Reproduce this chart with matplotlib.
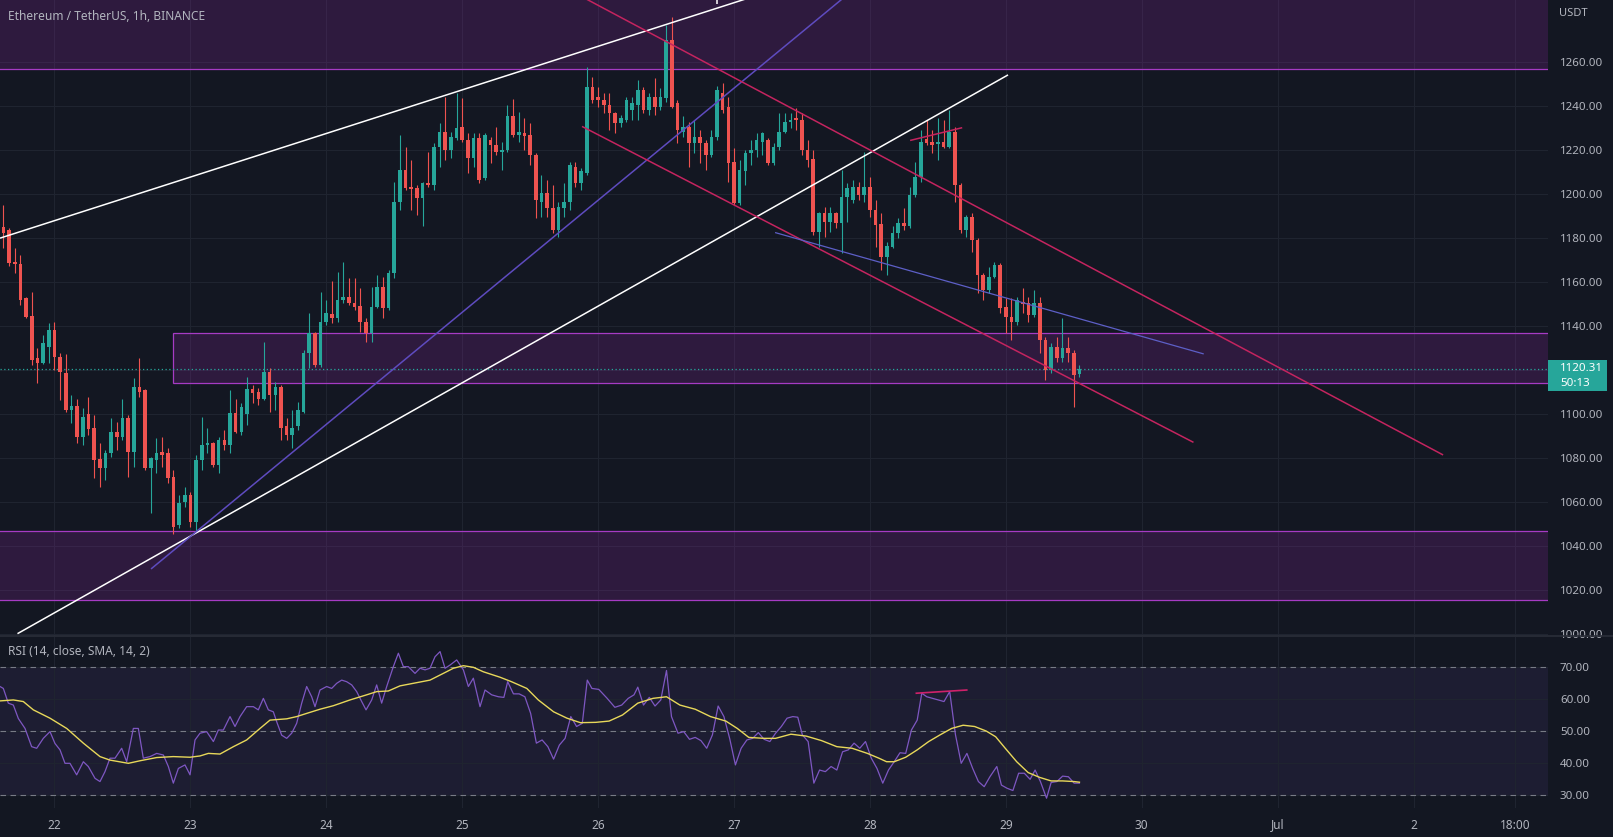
import matplotlib
matplotlib.use("Agg")
import matplotlib.pyplot as plt
from matplotlib.lines import Line2D
from matplotlib.patches import Rectangle

# ETH/USDT 1h candles, hour 0 = 21 Jun 15:00
opens = [1184.8, 1183.6, 1169.2, 1168.2, 1152.6, 1144.5, 1125.3, 1123.0, 1130.6, 1138.2, 1126.0, 1118.8,
         1101.8, 1103.6, 1089.7, 1100.0, 1093.5, 1079.4, 1075.3, 1082.1, 1091.7, 1089.7, 1098.0, 1082.9,
         1112.4, 1110.9, 1075.3, 1079.1, 1082.9, 1082.1, 1071.2, 1049.5, 1060.2, 1063.2, 1051.0, 1079.1,
         1085.9, 1086.7, 1076.8, 1088.2, 1085.9, 1100.3, 1092.0, 1100.0, 1111.2, 1110.0, 1107.0,
         1119.2, 1108.6, 1112.4, 1094.3, 1090.5, 1094.3, 1101.0, 1127.6, 1136.7, 1122.3, 1142.0, 1145.3,
         1143.5, 1151.8, 1153.0, 1150.3, 1149.0, 1142.0, 1136.7, 1148.8, 1157.9, 1148.1, 1163.9, 1196.5,
         1210.9, 1203.0, 1202.6, 1198.0, 1204.9, 1204.1, 1221.5, 1228.3, 1220.0, 1225.3, 1230.6, 1224.5,
         1216.2, 1225.3, 1207.1, 1224.5, 1222.3, 1219.2, 1220.0, 1235.2, 1226.8, 1227.9, 1226.8, 1217.7,
         1196.5, 1200.3, 1193.5, 1183.6, 1193.5, 1196.5, 1212.4, 1204.9, 1209.4, 1248.5, 1243.9, 1242.7,
         1240.5, 1236.7, 1232.1, 1233.6, 1238.2, 1240.5, 1247.3, 1238.2, 1244.2, 1239.7, 1243.5, 1270.0,
         1241.2, 1228.3, 1230.6, 1223.0, 1226.0, 1223.0, 1217.7, 1226.0, 1245.8, 1239.7, 1214.7, 1195.8,
         1210.2, 1218.5, 1220.0, 1223.8, 1224.5, 1213.9, 1221.5, 1228.3, 1232.9, 1234.4, 1233.6, 1220.0,
         1215.8, 1182.9, 1191.2, 1187.4, 1191.5, 1186.7, 1198.8, 1197.3, 1203.0, 1199.5, 1203.0, 1192.7,
         1186.4, 1171.5, 1176.1, 1182.1, 1186.7, 1185.2, 1199.5, 1207.9, 1224.8, 1223.8, 1222.7, 1223.8,
         1221.5, 1228.3, 1204.1, 1183.6, 1189.7, 1179.1, 1163.2, 1156.4, 1162.4, 1167.7, 1148.8, 1144.2,
         1142.0, 1151.0, 1150.3, 1145.0, 1150.3, 1133.6, 1120.0, 1130.6, 1125.3, 1129.8, 1127.6, 1118.2]
highs = [1195.0, 1184.4, 1175.3, 1172.3, 1153.3, 1155.6, 1129.8, 1135.9, 1141.2, 1142.0, 1127.6, 1127.3,
         1108.6, 1107.0, 1102.6, 1107.9, 1099.5, 1086.7, 1083.6, 1098.0, 1096.5, 1106.7, 1099.5, 1116.2,
         1125.3, 1111.2, 1080.6, 1089.0, 1089.4, 1084.4, 1074.5, 1063.2, 1066.9, 1064.7, 1081.4, 1098.8,
         1093.5, 1087.4, 1089.7, 1092.7, 1110.9, 1107.0, 1104.8, 1117.0, 1113.2, 1112.0, 1132.9,
         1120.7, 1114.7, 1113.2, 1098.0, 1102.0, 1105.6, 1129.0, 1145.8, 1137.4, 1155.6, 1151.8, 1160.2,
         1164.7, 1169.2, 1161.7, 1161.7, 1157.1, 1143.5, 1157.9, 1163.2, 1162.4, 1165.5, 1205.6, 1226.8,
         1221.5, 1215.5, 1204.1, 1205.6, 1219.2, 1223.0, 1232.1, 1244.2, 1228.3, 1245.8, 1243.5, 1227.6,
         1227.6, 1227.6, 1227.6, 1226.0, 1230.6, 1223.8, 1240.5, 1243.0, 1237.4, 1234.4, 1232.1, 1218.5,
         1208.6, 1206.4, 1204.1, 1196.5, 1204.9, 1214.7, 1214.7, 1211.7, 1257.9, 1253.3, 1248.8, 1245.8,
         1245.8, 1237.4, 1235.9, 1244.2, 1244.2, 1251.8, 1248.8, 1245.8, 1252.6, 1248.0, 1276.8, 1280.6,
         1242.7, 1235.2, 1232.9, 1233.6, 1229.1, 1224.5, 1229.1, 1249.0, 1250.3, 1244.2, 1220.7, 1215.5,
         1220.0, 1224.5, 1227.6, 1228.3, 1225.3, 1223.0, 1236.7, 1236.7, 1236.7, 1238.9, 1236.7, 1224.5,
         1220.0, 1192.0, 1194.2, 1194.2, 1192.0, 1210.9, 1204.9, 1206.4, 1205.6, 1219.2, 1207.9, 1197.3,
         1191.2, 1178.3, 1185.2, 1188.9, 1193.5, 1203.3, 1214.7, 1229.1, 1233.6, 1229.1, 1234.4, 1233.6,
         1238.2, 1230.6, 1204.9, 1190.5, 1191.2, 1179.8, 1163.9, 1167.0, 1169.2, 1168.5, 1152.6, 1152.6,
         1153.3, 1157.1, 1153.3, 1156.4, 1153.3, 1135.1, 1132.1, 1135.1, 1143.5, 1135.1, 1129.1, 1122.3]
lows = [1175.3, 1167.3, 1163.9, 1149.5, 1143.5, 1122.3, 1113.9, 1122.5, 1123.0, 1120.0, 1106.4, 1101.0,
        1095.8, 1086.7, 1085.9, 1090.4, 1070.8, 1067.0, 1070.0, 1080.6, 1083.6, 1088.2, 1071.5, 1076.0,
        1107.9, 1074.5, 1054.8, 1073.0, 1076.0, 1068.5, 1045.5, 1048.0, 1057.9, 1048.8, 1046.5, 1074.5,
        1082.1, 1076.0, 1073.0, 1083.6, 1082.1, 1091.2, 1090.4, 1095.0, 1104.8, 1104.0, 1106.4,
        1101.0, 1101.8, 1088.2, 1088.2, 1084.4, 1092.7, 1100.3, 1120.7, 1121.5, 1121.5, 1140.5, 1141.2,
        1142.0, 1150.3, 1149.5, 1147.3, 1137.4, 1132.9, 1132.9, 1148.0, 1143.5, 1147.3, 1161.7, 1192.7,
        1201.8, 1192.7, 1190.5, 1185.2, 1203.3, 1201.8, 1212.4, 1215.5, 1216.2, 1224.5, 1223.8, 1209.4,
        1212.4, 1204.9, 1206.4, 1213.9, 1217.7, 1210.9, 1219.2, 1226.0, 1223.8, 1220.0, 1213.2, 1189.0,
        1189.7, 1189.7, 1182.1, 1180.6, 1189.7, 1192.7, 1203.3, 1201.8, 1208.6, 1241.2, 1239.7, 1236.7,
        1229.1, 1227.6, 1230.6, 1232.9, 1233.6, 1233.6, 1236.7, 1235.9, 1235.9, 1238.2, 1242.0, 1238.9,
        1223.0, 1226.0, 1212.4, 1218.5, 1214.0, 1210.9, 1217.0, 1224.5, 1236.7, 1205.6, 1195.0, 1195.0,
        1204.1, 1213.2, 1217.0, 1217.7, 1213.2, 1213.2, 1220.0, 1227.6, 1229.8, 1229.1, 1217.7, 1212.4,
        1181.4, 1176.0, 1180.6, 1182.9, 1184.4, 1173.0, 1187.4, 1195.8, 1197.3, 1196.5, 1189.7, 1176.0,
        1165.5, 1163.2, 1175.3, 1179.8, 1183.6, 1184.4, 1198.8, 1205.6, 1222.3, 1218.5, 1215.5, 1220.7,
        1220.7, 1196.5, 1182.1, 1180.6, 1173.8, 1154.9, 1151.8, 1154.9, 1161.7, 1145.8, 1136.7, 1133.6,
        1140.5, 1145.8, 1142.0, 1144.2, 1127.6, 1115.5, 1118.5, 1123.8, 1123.8, 1123.8, 1103.3, 1117.0]
closes = [1182.4, 1168.5, 1168.2, 1151.8, 1144.2, 1124.5, 1123.0, 1132.1, 1138.2, 1126.0, 1119.2, 1101.8,
          1103.6, 1089.7, 1098.8, 1093.0, 1079.1, 1075.3, 1082.1, 1092.0, 1089.7, 1098.0, 1082.9, 1112.4,
          1110.1, 1075.3, 1079.8, 1082.1, 1081.4, 1070.8, 1048.8, 1059.4, 1063.2, 1051.0, 1079.1, 1085.9,
          1086.7, 1076.8, 1088.2, 1085.9, 1100.3, 1092.0, 1103.3, 1111.2, 1109.7, 1107.0, 1119.2,
          1108.6, 1112.4, 1093.5, 1090.5, 1093.5, 1101.8, 1127.6, 1136.7, 1122.3, 1142.0, 1145.8, 1143.8,
          1151.8, 1153.3, 1150.3, 1148.5, 1142.0, 1136.7, 1148.8, 1157.9, 1148.1, 1163.9, 1196.5, 1210.9,
          1202.6, 1202.3, 1198.0, 1204.9, 1204.1, 1221.5, 1228.3, 1220.0, 1226.0, 1229.8, 1224.5, 1216.2,
          1225.3, 1206.4, 1226.8, 1222.3, 1219.2, 1220.0, 1235.2, 1226.8, 1228.3, 1226.1, 1217.7, 1197.3,
          1200.3, 1193.5, 1183.6, 1194.2, 1196.5, 1213.2, 1204.9, 1210.2, 1248.8, 1242.7, 1242.7, 1240.5,
          1236.7, 1232.1, 1234.4, 1242.7, 1241.2, 1247.3, 1238.2, 1244.2, 1239.7, 1244.2, 1270.0, 1239.7,
          1229.1, 1230.6, 1223.0, 1226.0, 1223.0, 1217.7, 1226.0, 1247.3, 1238.2, 1213.9, 1195.8, 1210.9,
          1218.5, 1220.0, 1224.5, 1227.6, 1213.9, 1221.5, 1228.3, 1232.9, 1233.6, 1233.6, 1220.0, 1215.5,
          1182.9, 1191.2, 1187.4, 1191.2, 1186.7, 1198.8, 1202.6, 1203.3, 1199.5, 1203.0, 1192.7, 1185.9,
          1171.5, 1176.4, 1182.1, 1186.7, 1185.2, 1199.5, 1207.9, 1223.8, 1223.0, 1222.3, 1223.8, 1221.5,
          1228.3, 1204.1, 1183.6, 1189.7, 1179.1, 1163.2, 1156.4, 1162.4, 1167.7, 1148.1, 1144.2, 1142.0,
          1151.8, 1150.0, 1145.0, 1150.3, 1133.6, 1120.0, 1130.6, 1125.3, 1129.8, 1127.6, 1117.7, 1120.3]

# RSI(14) line, read at its turning points (hour, value)
rsi_hours = [-0.62, -0.03, 0.85, 1.74, 2.62, 3.80, 4.97, 5.86, 7.03, 8.21, 9.09, 9.98, 10.86, 11.74,
             12.92, 14.10, 14.98, 16.16, 17.04, 17.92, 18.81, 19.69, 20.87, 21.75, 22.93, 23.81, 24.69,
             25.87, 27.05, 28.23, 29.11, 29.99, 30.88, 32.05, 32.94, 33.82, 34.70, 35.88, 37.06, 37.94,
             38.82, 40.00, 40.88, 41.77, 42.94, 44.12, 45.00, 45.89, 46.77, 47.65, 48.24, 49.12, 50.01,
             50.89, 51.77, 52.66, 53.54, 54.42, 55.01, 55.89, 57.07, 57.95, 58.84, 59.72, 60.60, 61.49,
             62.37, 63.25, 64.02, 65.02, 65.90, 66.78, 67.67, 68.84, 69.73, 70.61, 71.49, 72.67, 73.55,
             74.44, 75.32, 76.20, 77.09, 77.97, 78.85, 80.03, 81.21, 82.09, 82.97, 84.15, 85.03, 86.21,
             87.39, 88.36, 89.03, 90.05, 91.06, 92.07, 93.09, 94.10, 95.11, 96.13, 97.14, 98.16, 99.17,
             100.18, 101.20, 102.21, 103.09, 103.90, 105.12, 106.60, 107.96, 109.17, 110.32, 111.34,
             112.01, 113.02, 114.04, 115.05, 116.07, 117.08, 117.96, 119.11, 120.12, 121.14, 122.15,
             123.16, 124.18, 125.19, 126.20, 127.22, 128.23, 129.25, 130.26, 131.27, 132.29, 133.30,
             134.31, 135.33, 136.34, 137.36, 138.37, 139.38, 140.26, 141.07, 142.09, 143.10, 144.11,
             145.13, 146.14, 147.16, 148.17, 149.18, 150.20, 151.21, 152.22, 153.24, 154.25, 155.27,
             156.28, 157.29, 158.31, 159.32, 160.33, 161.35, 162.16, 163.04, 164.05, 165.07, 166.08,
             167.09, 168.11, 169.12, 170.13, 171.15, 172.16, 173.18, 174.19, 175.41, 176.22, 177.23,
             178.25, 179.26, 180.27, 181.29, 182.17, 183.11, 184.19, 185.00, 186.02, 187.03, 188.05,
             189.06, 190.0]
rsi_vals = [63.9, 63.3, 58.7, 58.1, 53.9, 50.8, 45.1, 44.6, 47.7, 49.8, 46.1, 44.1, 39.9, 39.9,
            36.3, 40.4, 38.9, 35.2, 34.2, 37.3, 41.5, 41.5, 44.6, 40.4, 50.8, 50.8, 41.5,
            42.0, 43.0, 42.5, 38.9, 33.7, 38.3, 39.4, 36.3, 47.2, 49.3, 49.8, 46.7, 50.3,
            50.3, 54.5, 51.4, 54.5, 57.6, 57.6, 56.6, 60.2, 56.6, 56.0, 52.9, 48.7, 47.7,
            49.3, 52.4, 58.7, 63.9, 60.7, 57.6, 62.8, 63.9, 63.3, 64.9, 65.9, 65.4, 64.4,
            62.3, 59.2, 56.6, 59.7, 64.4, 58.7, 63.9, 70.1, 74.3, 70.1, 70.1, 68.0, 69.6,
            69.1, 69.6, 73.2, 74.8, 69.6, 70.6, 72.2, 69.1, 63.9, 66.5, 57.6, 62.8, 61.3,
            60.7, 60.5, 65.4, 61.6, 61.6, 60.7, 55.5, 46.2, 47.2, 45.1, 41.2, 45.6, 47.7,
            54.5, 51.4, 52.4, 65.9, 63.3, 63.0, 60.2, 57.4, 58.1, 60.2, 61.3,
            63.7, 58.1, 60.5, 57.8, 59.7, 68.9, 54.5, 49.3, 49.8, 47.4, 48.0,
            47.0, 44.6, 48.8, 57.8, 54.5, 47.7, 39.4, 44.6, 47.2, 47.7, 49.5,
            47.4, 46.7, 49.3, 51.4, 54.0, 54.5, 54.3, 48.8, 46.7, 33.7, 37.8,
            37.3, 38.9, 37.8, 43.5, 44.1, 46.2, 44.6, 46.7, 41.5, 38.3, 33.7,
            37.8, 40.4, 43.2, 43.0, 50.3, 53.4, 61.8, 60.7, 60.2, 59.7, 59.2,
            62.3, 48.8, 39.9, 43.0, 38.3, 34.2, 32.6, 35.7, 38.9, 33.1, 32.1,
            31.4, 36.8, 36.8, 34.9, 37.8, 34.2, 29.0, 33.9, 34.2, 35.9, 35.7,
            33.7, 33.7]

# RSI-based SMA(14)
sma_hours = [-0.62, 1.74, 3.50, 5.27, 8.21, 11.16, 14.10, 17.04, 18.81, 22.05, 24.11, 27.05, 29.99,
             32.94, 34.70, 36.17, 38.23, 40.59, 42.94, 45.30, 47.06, 50.01, 51.77, 53.54, 55.89, 58.25,
             61.19, 64.13, 65.90, 67.96, 70.02, 72.97, 75.32, 77.67, 79.44, 81.21, 82.97, 84.74, 87.68,
             89.71, 92.41, 94.44, 97.14, 99.51, 101.87, 104.58, 106.94, 109.31, 112.01, 114.71, 117.08,
             119.45, 122.15, 124.85, 127.56, 129.58, 131.61, 134.31, 136.34, 139.05, 141.75, 144.45,
             147.16, 149.86, 152.56, 154.59, 155.94, 157.29, 159.32, 161.35, 163.38, 165.40, 167.43,
             169.46, 171.49, 173.52, 175.21, 176.90, 178.92, 180.95, 182.98, 185.00, 187.03, 189.06, 190.0]
sma_vals = [59.4, 59.7, 59.2, 56.6, 54.0, 50.8, 46.2, 42.0, 40.9, 39.9, 40.7, 41.7, 42.0,
            41.8, 42.2, 43.0, 42.8, 45.1, 47.2, 50.8, 53.4, 53.8, 54.5, 55.5, 56.8, 57.9,
            59.7, 61.3, 62.3, 62.5, 64.1, 65.1, 65.9, 68.0, 69.6, 70.4, 69.9, 68.5, 66.8,
            65.4, 63.3, 59.7, 56.0, 54.0, 52.6, 52.7, 53.1, 55.0, 58.7, 60.2, 60.7,
            58.1, 56.8, 54.5, 53.1, 50.8, 48.0, 47.7, 47.7, 49.0, 48.4, 47.0,
            45.1, 44.6, 43.0, 41.5, 40.4, 40.4, 41.8, 44.1, 46.7, 48.8, 50.8,
            51.8, 51.4, 50.0, 48.2, 44.6, 40.4, 37.0, 35.5, 34.4, 34.4, 34.2, 34.0]

day_ticks = [9, 33, 57, 81, 105, 129, 153, 177, 201, 225, 249, 267]
day_labels = ["22", "23", "24", "25", "26", "27", "28", "29", "30", "Jul", "2", "18:00"]
price_ticks = list(range(1000, 1261, 20))
rsi_ticks = [30, 40, 50, 60, 70]
last_price = 1120.31
countdown = "50:13"

# supply / demand zones: (start hour, low, high)
zones = [(-1, 1257.0, 1300.0), (30, 1114.2, 1136.95), (-1, 1015.45, 1046.8)]

# drawn trend lines: (h0, p0, h1, p1, colour, width)
trend_lines = [
    (-0.62, 1179.9, 133.6, 1290.7, "#ffffff", 1.1),
    (2.47, 1000.14, 177.39, 1254.09, "#ffffff", 1.1),
    (26.05, 1029.55, 151.25, 1295.3, "#5e4bbf", 1.1),
    (101.8, 1290.1, 254.22, 1081.36, "#c4245f", 1.1),
    (102.16, 1230.68, 210.14, 1087.09, "#c4245f", 1.1),
    (136.25, 1182.45, 211.95, 1127.27, "#5d5fc7", 0.9),
    (160.1, 1224.3, 169.3, 1230.1, "#c4245f", 1.1),
    (126.0, 1288.2, 126.0, 1286.3, "#ffffff", 1.1),
]
rsi_div = (161.2, 61.8, 170.1, 62.8)

bg = "#131722"
grid_c = "#1f2430"
text_c = "#b2b5be"
up_c = "#26a69a"
down_c = "#ef5350"
zone_c = "#9c27b0"

plt.rcParams['font.family'] = ['Noto Sans', 'DejaVu Sans']

W, H = 1613, 837
fig = plt.figure(figsize=(W / 100 + 0.001, H / 100 + 0.001), dpi=100, facecolor=bg)
ax = fig.add_axes([0, 1 - 636 / H, 1548 / W, 636 / H])
ax_rsi = fig.add_axes([0, 1 - 808 / H, 1548 / W, (808 - 637) / H])

xmin, xmax = -0.618, 272.76
for a in (ax, ax_rsi):
    a.set_facecolor(bg)
    a.set_xlim(xmin, xmax)
    for s in a.spines.values():
        s.set_visible(False)
    a.set_xticks(day_ticks)
    a.grid(True, color=grid_c, lw=0.8, zorder=0)
    a.set_axisbelow(True)
    a.yaxis.tick_right()
    a.tick_params(axis='y', length=0, pad=8.5, labelcolor=text_c, labelsize=8.3)

ax.set_ylim(999.09, 1288.18)
ax.set_yticks(price_ticks)
# the last-price tag covers the 1120 label, as on the original
ax.set_yticklabels(["" if p == 1120 else f"{p:.2f}" for p in price_ticks])
ax.tick_params(axis='x', length=0, labelbottom=False)

# zones
for h0, lo, hi in zones:
    ax.add_patch(Rectangle((h0, lo), xmax + 5 - h0, hi - lo, facecolor=zone_c, alpha=0.2,
                           edgecolor='none', zorder=1))
    ax.add_patch(Rectangle((h0, lo), xmax + 5 - h0, hi - lo, facecolor='none',
                           edgecolor='#a63bc4', lw=0.9, zorder=1.5))

# candles
hours = list(range(len(closes)))
cols = [up_c if c >= o else down_c for o, c in zip(opens, closes)]
ax.vlines(hours, lows, highs, colors=cols, lw=0.8, zorder=3)
bottoms = [min(o, c) for o, c in zip(opens, closes)]
heights = [max(abs(c - o), 0.5) for o, c in zip(opens, closes)]
ax.bar(hours, heights, bottom=bottoms, width=0.64, color=cols, zorder=3.5)

ax.axhline(last_price, color=up_c, ls=(0, (1, 2)), lw=0.9, zorder=2)

for h0, p0, h1, p1, c, lw in trend_lines:
    ax.plot([h0, h1], [p0, p1], color=c, lw=lw, zorder=4, solid_capstyle='butt')

# RSI pane
ax_rsi.set_ylim(25.94, 79.375)
ax_rsi.set_yticks(rsi_ticks)
ax_rsi.set_yticklabels([f"{v:.2f}" for v in rsi_ticks])
ax_rsi.axhspan(30, 70, color='#7e57c2', alpha=0.1, lw=0, zorder=0.5)
for lvl in (70, 50, 30):
    ax_rsi.axhline(lvl, color='#787b86', ls=(0, (5, 4)), lw=0.8, zorder=1)
ax_rsi.plot(rsi_hours, rsi_vals, color='#7e57c2', lw=0.9, zorder=3)
ax_rsi.plot(sma_hours, sma_vals, color='#e8d85a', lw=1.0, zorder=3)
ax_rsi.plot([rsi_div[0], rsi_div[2]], [rsi_div[1], rsi_div[3]], color='#d0216a', lw=1.2, zorder=4)
ax_rsi.set_xticklabels(day_labels)
ax_rsi.tick_params(axis='x', length=0, pad=7.5, labelcolor=text_c, labelsize=8.5)

# pane separator
fig.add_artist(Line2D([0, 1], [1 - 636 / H, 1 - 636 / H], color='#2a2e39', lw=1.2))

# labels
fig.text(8 / W, 1 - 16 / H, "Ethereum / TetherUS, 1h, BINANCE", color=text_c, fontsize=8.6, va='center')
fig.text(8 / W, 1 - 651 / H, "RSI (14, close, SMA, 14, 2)", color=text_c, fontsize=8.6, va='center')
fig.text(1559 / W, 1 - 13 / H, "USDT", color=text_c, fontsize=8.0, va='center')

fig.add_artist(Rectangle((1548 / W, 1 - 391 / H), 59 / W, 31 / H, facecolor=up_c, edgecolor='none',
                         transform=fig.transFigure))
fig.text(1560 / W, 1 - 368 / H, f"{last_price:.2f}", color='white', fontsize=8.3, weight='bold', va='center')
fig.text(1560 / W, 1 - 383 / H, countdown, color='white', fontsize=8.3, va='center')

fig.savefig("out.png", dpi=100, facecolor=bg)
